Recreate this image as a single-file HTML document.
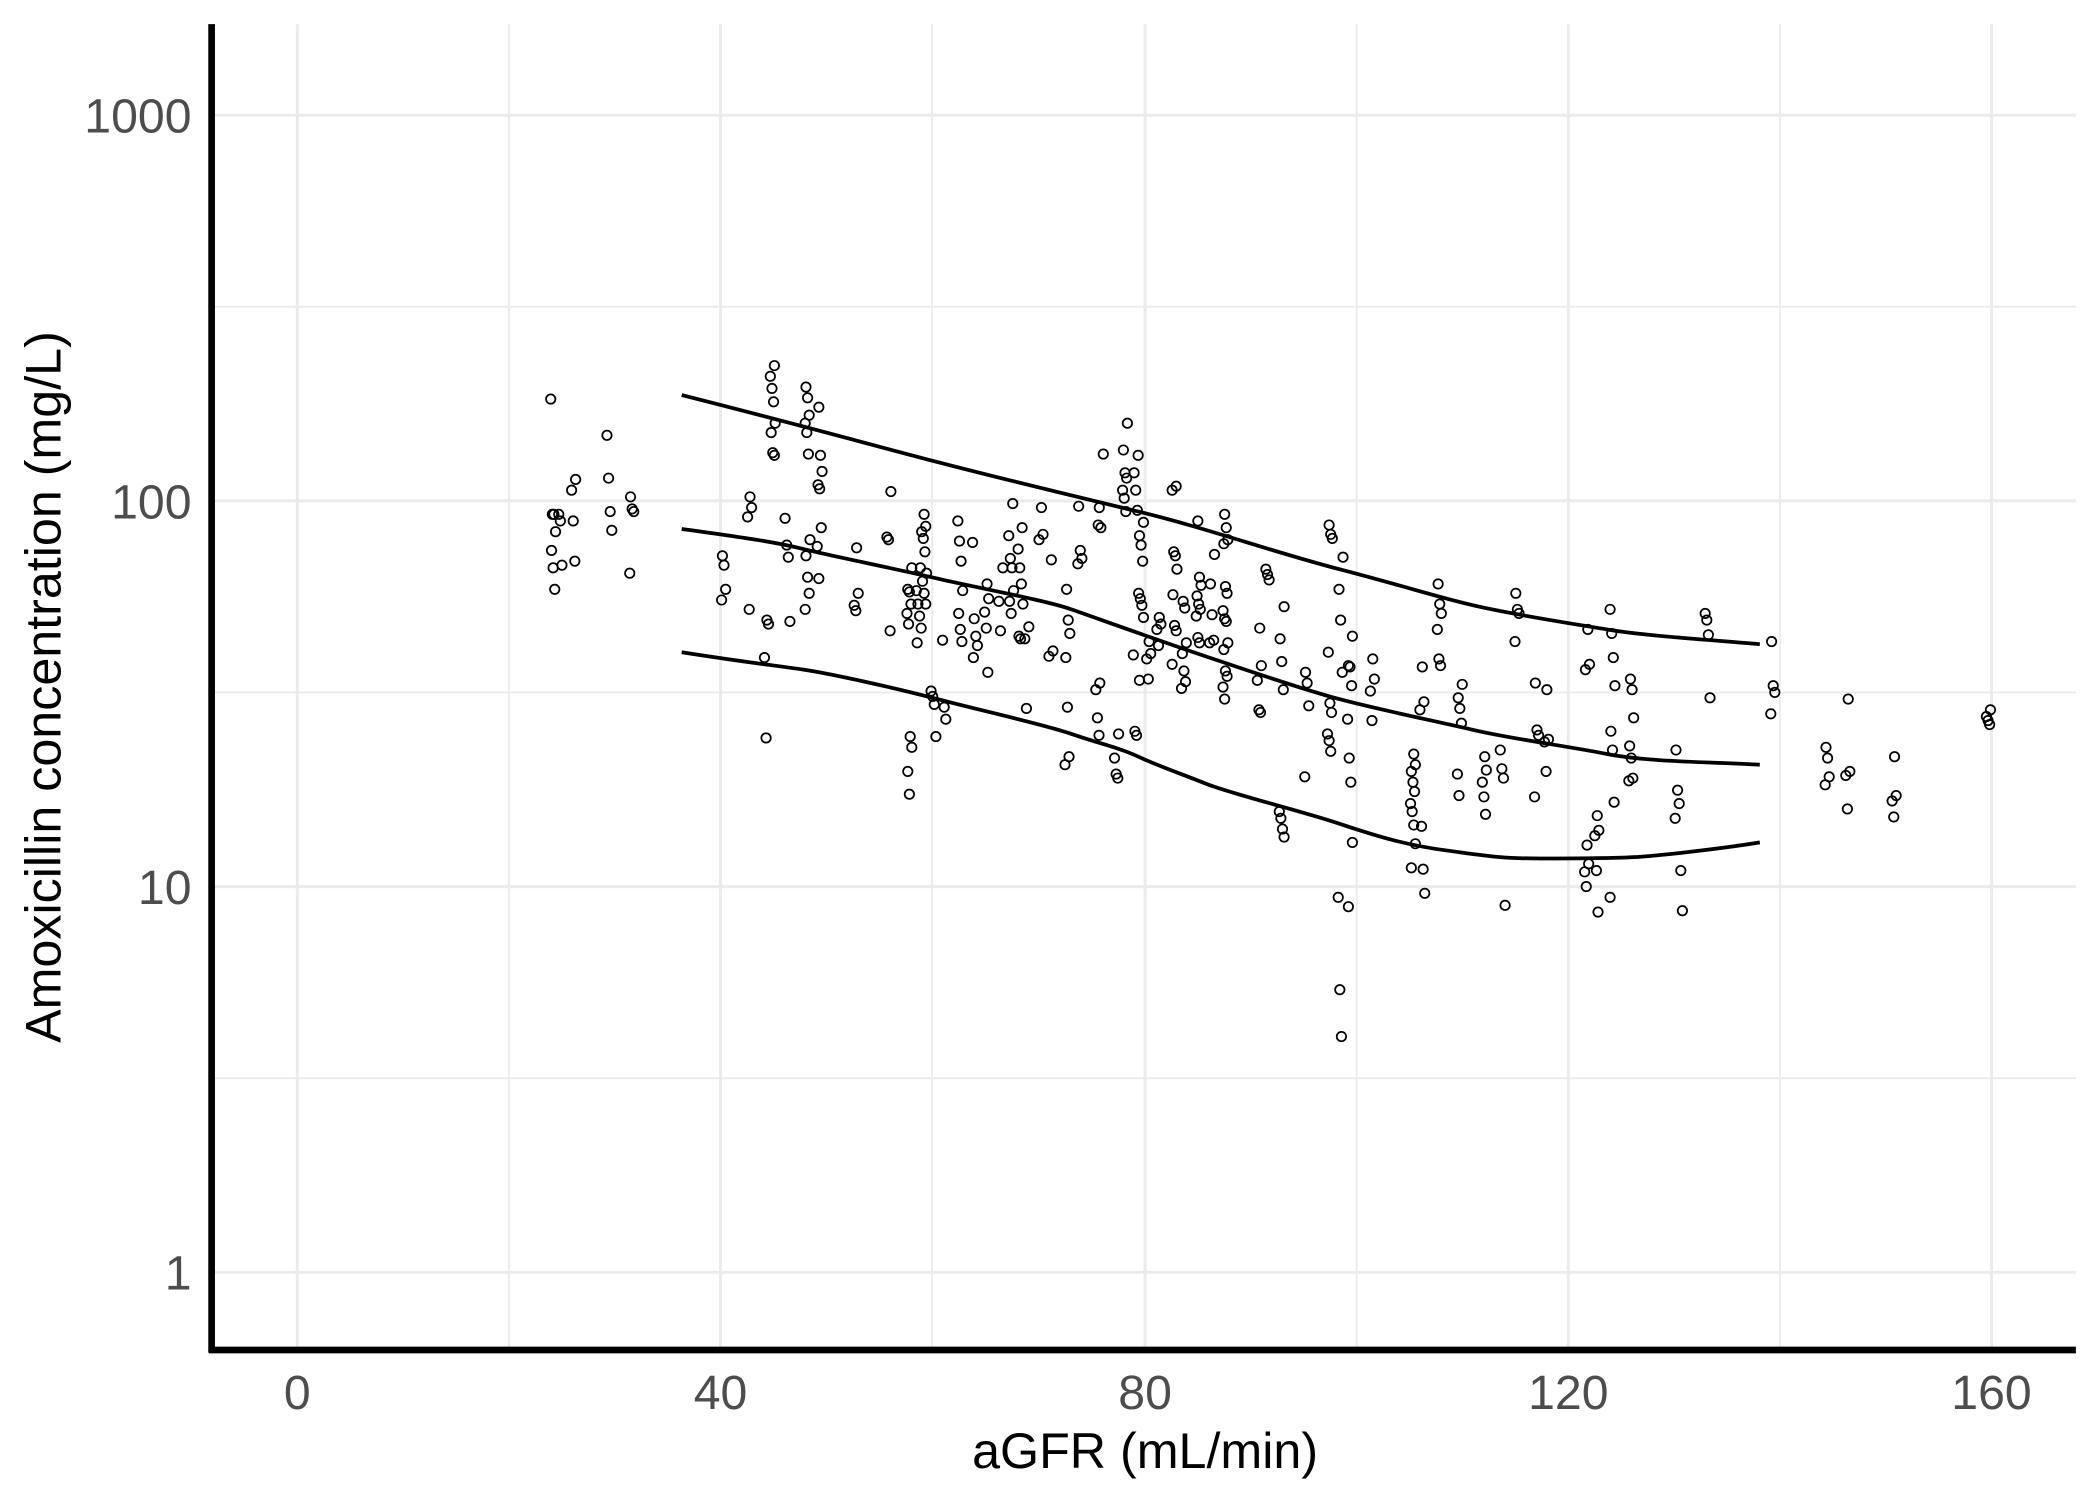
<!DOCTYPE html>
<html><head><meta charset="utf-8"><style>
html,body{margin:0;padding:0;background:#fff;}
svg{display:block;}
text{font-family:"Liberation Sans",Arial,sans-serif;}
</style></head><body>
<svg id="s" width="2100" height="1500" viewBox="0 0 1568 1120" xmlns="http://www.w3.org/2000/svg">
<rect width="1568" height="1120" fill="#fff"/>
<g stroke="#ebebeb" stroke-width="1.4">
<line x1="158" x2="1550" y1="229" y2="229"/><line x1="158" x2="1550" y1="517" y2="517"/><line x1="158" x2="1550" y1="805" y2="805"/>
<line x1="380" x2="380" y1="18" y2="1008"/><line x1="696" x2="696" y1="18" y2="1008"/><line x1="1013" x2="1013" y1="18" y2="1008"/><line x1="1329" x2="1329" y1="18" y2="1008"/>
</g>
<g stroke="#ebebeb" stroke-width="2.2">
<line x1="158" x2="1550" y1="86" y2="86"/><line x1="158" x2="1550" y1="374" y2="374"/><line x1="158" x2="1550" y1="662" y2="662"/><line x1="158" x2="1550" y1="950" y2="950"/>
<line x1="222" x2="222" y1="18" y2="1008"/><line x1="538" x2="538" y1="18" y2="1008"/><line x1="855" x2="855" y1="18" y2="1008"/><line x1="1171" x2="1171" y1="18" y2="1008"/><line x1="1487" x2="1487" y1="18" y2="1008"/>
</g>
<g id="pts" fill="none" stroke="#000" stroke-width="1.3"></g>
<g fill="none" stroke="#000" stroke-width="2.8" stroke-linejoin="round">
<path d="M509,295 C600,318 650,332 700,345 S800,370 850,382 S950,412 1000,425 S1070,445 1100,452 S1170,465 1200,470 S1280,478 1314,481"/>
<path d="M509,395 C560,402 580,405 600,410 S670,425 700,432 S780,448 800,455 S870,480 900,490 S970,514 1000,522 S1070,538 1100,545 S1170,557 1200,563 S1280,569 1314,571"/>
<path d="M509,487 C560,495 580,497 600,500 S670,514 700,522 S780,541 800,548 S835,558 850,565 S880,577 900,585 S970,605 1000,615 S1050,631 1080,635 S1120,641 1150,641 S1200,641 1220,640 S1290,633 1314,629"/>
</g>
<line x1="158" x2="158" y1="18" y2="1010" stroke="#000" stroke-width="5"/>
<line x1="156" x2="1550" y1="1008" y2="1008" stroke="#000" stroke-width="5"/>
<g fill="#4d4d4d" font-size="36" text-anchor="end">
<text x="143" y="99">1000</text><text x="143" y="387">100</text><text x="143" y="675">10</text><text x="143" y="963">1</text>
</g>
<g fill="#4d4d4d" font-size="36" text-anchor="middle">
<text x="222" y="1052">0</text><text x="538" y="1052">40</text><text x="855" y="1052">80</text><text x="1171" y="1052">120</text><text x="1487" y="1052">160</text>
</g>
<text x="855" y="1096" font-size="37.5" text-anchor="middle" fill="#000">aGFR (mL/min)</text>
<text transform="translate(45,513) rotate(-90)" font-size="37.5" text-anchor="middle" fill="#000">Amoxicillin concentration (mg/L)</text>
</svg>
<script>
var d={413:[298,384,384,397,411,424,440],419:[384,389,422],428:[358,366,389,419],455:[325,357,382,396],472:[371,380,382,428],540:[415,422,440,448],560:[371,379,386,455],572:[463,466,491,551],577:[273,281,290,300,316,323,338,340],588:[387,407,416,464],603:[289,297,310,316,323,339,403,415,431,443,455],612:[304,340,352,362,365,394,408,432],639:[409,443,452,456],664:[367,401,403,471],679:[424,440,442,451,458,466,550,558,576,593],686:[424,441,451,460,469,480],690:[384,393,397,402,412,428,434,443,451],697:[516,520,526,550],705:[478,528,537],717:[389,404,419,441,458,470,479],728:[405,462,475,482,491],737:[436,447,457,469,502],747:[424,449,471],755:[376,400,417,424,441,449,458],762:[394,410,424,436,451,475,477],767:[468,477,529],777:[379,399,403],785:[418,486,490],797:[440,463,473,491,528,565,571],806:[378,411,417,421],820:[392,510,515,536,549],822:[339,379,394],834:[548,566,578,581],840:[316,336,353,357,366,372,382],848:[340,353,366,381,489,546,549],852:[390,400,407,419,443,447,452,461,508],858:[479,488,492,507],865:[461,466,470,482],877:[363,366,412,415,425,444,467,471,496],884:[449,454,480,488,501,509,514],895:[389,431,437,445,451,455,460,476,480],905:[414,436,459,478,480],915:[384,394,403,406,438,443,456,462,464,480,485,501,505,513,522],940:[469,497,508,530,532],947:[425,429,433],957:[453,477,494,515,606,611,619,625],976:[502,510,527,580],993:[392,399,402,487,525,532,548,553,561],1001:[416,440,463,502,670,739,774],1008:[475,497,498,512,537,566,584,629,677],1025:[492,507,516,538],1055:[563,571,576,584,591,600,606,616,630,648],1062:[498,524,530,617,649,667],1075:[436,451,458,470,492,497],1090:[511,521,529,540,578,594],1108:[565,575,584,595,608],1122:[560,574,581,676],1133:[443,455,458,479],1147:[510,545,549,595],1155:[515,552,554,576],1185:[470,496,500,631,645,651,662],1192:[609,620,624,650,681],1204:[455,473,491,512,546,560,599,670],1218:[507,515,536,557,566,581,583],1252:[560,590,600,611],1255:[650,680],1275:[458,463,474,521],1324:[479,512,517,533],1364:[558,566,580,586],1380:[522,576,579,604],1414:[565,594,598,610],1485:[530,535,538,541]};
var g=document.getElementById('pts'),ns='http://www.w3.org/2000/svg',i=0;
for(var k in d){d[k].forEach(function(y){var c=document.createElementNS(ns,'circle');var dx=((i*37)%7)-3;i++;c.setAttribute('cx',(+k)+dx*0.6);c.setAttribute('cy',y);c.setAttribute('r',3.5);g.appendChild(c);});}
</script>
</body></html>
